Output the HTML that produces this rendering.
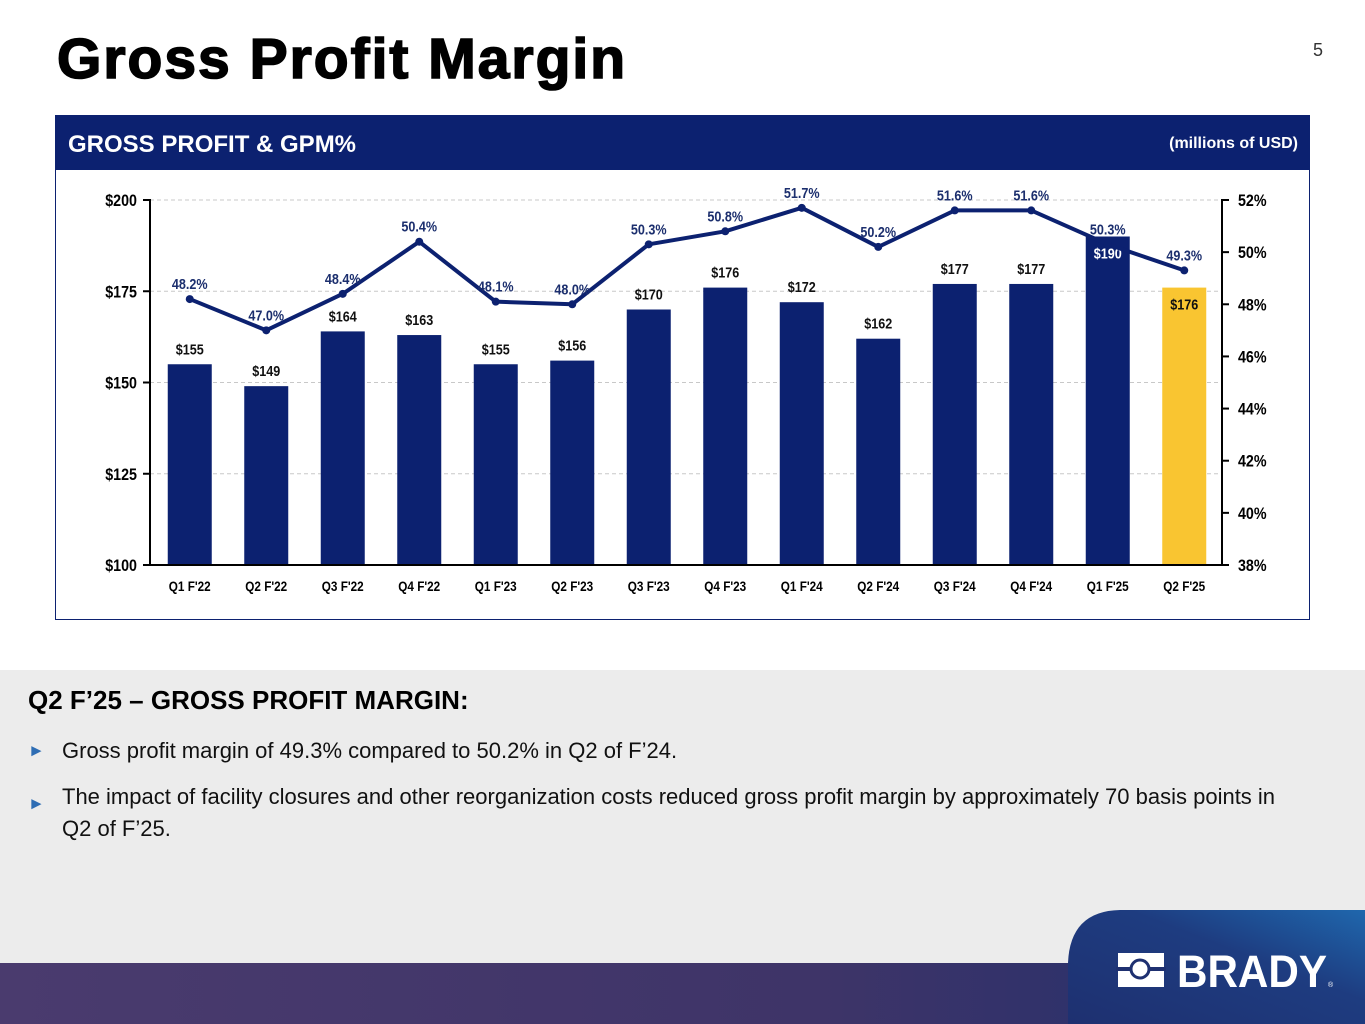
<!DOCTYPE html>
<html><head><meta charset="utf-8"><style>
body{margin:0;width:1365px;height:1024px;position:relative;overflow:hidden;background:#fff;font-family:"Liberation Sans",sans-serif}
.abs{position:absolute}
</style></head><body>
<div class="abs" style="left:57px;top:26px;font-size:57px;font-weight:bold;color:#000;letter-spacing:2px;-webkit-text-stroke:1.6px #000">Gross Profit Margin</div>
<div class="abs" style="left:1313px;top:40px;font-size:18px;color:#333">5</div>
<div class="abs" style="left:55px;top:115px;width:1253px;height:503px;border:1px solid #0c2170;background:#fff"></div>
<div class="abs" style="left:55px;top:115px;width:1255px;height:55px;background:#0c2170">
 <div class="abs" style="left:13px;top:16px;font-size:24px;font-weight:bold;color:#fff">GROSS PROFIT &amp; GPM%</div>
 <div class="abs" style="right:12px;top:20px;font-size:16px;font-weight:bold;color:#fff">(millions of USD)</div>
</div>
<svg class="abs" style="left:0;top:0" width="1365" height="660">
<g id="g"></g>
</svg>
<div class="abs" style="left:0;top:670px;width:1365px;height:300px;background:#ececec">
 <div class="abs" style="left:28px;top:15px;font-size:26px;font-weight:bold;color:#000">Q2 F’25 – GROSS PROFIT MARGIN:</div>
 <div class="abs" style="left:28px;top:68px;font-size:22px;color:#111;width:1300px"><span style="color:#2e6db4;font-size:17px;position:absolute;left:0;top:3px">►</span><span style="position:absolute;left:34px;white-space:nowrap">Gross profit margin of 49.3% compared to 50.2% in Q2 of F’24.</span></div>
 <div class="abs" style="left:28px;top:115px;font-size:22px;color:#111;width:1300px;line-height:32px"><span style="color:#2e6db4;font-size:17px;position:absolute;left:0;top:3px">►</span><div style="position:absolute;left:34px;top:-4px;width:1230px">The impact of facility closures and other reorganization costs reduced gross profit margin by approximately 70 basis points in Q2 of F’25.</div></div>
</div>
<div class="abs" style="left:0;top:963px;width:1365px;height:61px;background:linear-gradient(90deg,#4a3b6e,#3e3468 60%,#1f2f6e)"></div>
<svg class="abs" style="left:1060px;top:905px" width="305" height="119">
<defs><linearGradient id="lg" x1="0" y1="1" x2="1" y2="0"><stop offset="0" stop-color="#1e3070"/><stop offset="0.6" stop-color="#1e3c80"/><stop offset="1" stop-color="#1f67ad"/></linearGradient></defs>
<path d="M8 119 L8 58 Q10 6 60 5 L305 5 L305 119 Z" fill="url(#lg)"/>
<rect x="58" y="48" width="46" height="34" fill="#fff"/>
<rect x="56" y="62" width="50" height="4" fill="#1e3070"/>
<circle cx="80" cy="64" r="9" fill="#fff" stroke="#1e3070" stroke-width="3"/>
<text x="117" y="82" font-family="Liberation Sans" font-weight="bold" font-size="45" fill="#fff" textLength="150" lengthAdjust="spacingAndGlyphs">BRADY</text>
<text x="268" y="82" font-size="7" fill="#fff" font-family="Liberation Sans">®</text>
</svg>
<script>
const categories=["Q1 F'22","Q2 F'22","Q3 F'22","Q4 F'22","Q1 F'23","Q2 F'23","Q3 F'23","Q4 F'23","Q1 F'24","Q2 F'24","Q3 F'24","Q4 F'24","Q1 F'25","Q2 F'25"];
const grossProfit=[155,149,164,163,155,156,170,176,172,162,177,177,190,176];
const gpm=[48.2,47.0,48.4,50.4,48.1,48.0,50.3,50.8,51.7,50.2,51.6,51.6,50.3,49.3];
const leftTicks=[100,125,150,175,200];
const rightTicks=[38,40,42,44,46,48,50,52];
const NS="http://www.w3.org/2000/svg";
const g=document.getElementById('g');
const X0=151.5,BW=76.5,Y0=565,Y1=200;
const xC=i=>X0+BW*(i+0.5);
const yL=v=>Y0-(v-100)/100*(Y0-Y1);
const yR=v=>Y0-(v-38)/14*(Y0-Y1);
const F='"Liberation Sans",sans-serif';
function el(t,a){const e=document.createElementNS(NS,t);for(const k in a)e.setAttribute(k,a[k]);g.appendChild(e);return e;}
function tx(x,y,s,a){const e=el('text',Object.assign({x:0,y:0,transform:'translate('+x+','+y+') scale(0.84,1)','font-family':F,'font-weight':'bold','font-size':15,'text-anchor':'middle'},a));e.textContent=s;return e;}
leftTicks.forEach(v=>{
 if(v>100){const l=el('line',{x1:150,x2:1222,y1:yL(v),y2:yL(v),stroke:'#c8c8c8','stroke-dasharray':'4,3'});
 
 }
 el('line',{x1:143,x2:150,y1:yL(v),y2:yL(v),stroke:'#000','stroke-width':2});
 const t=tx(137,yL(v)+6,'$'+v,{'text-anchor':'end','font-size':17,fill:'#000'});
 
 
});
rightTicks.forEach(v=>{
 el('line',{x1:1222,x2:1229,y1:yR(v),y2:yR(v),stroke:'#000','stroke-width':2});
 const t=tx(1238,yR(v)+6,v+'%',{'text-anchor':'start','font-size':17,fill:'#000'});
 
 
});
grossProfit.forEach((v,i)=>{
 const last=i===grossProfit.length-1;
 const r=el('rect',{x:xC(i)-22,y:yL(v),width:44,height:Y0-yL(v),fill:last?'#f9c531':'#0c2170'});
 
 
 const inside=i===12||last;
 const t=tx(xC(i),inside?yL(v)+22:yL(v)-10,'$'+v,{fill:inside&&!last?'#fff':'#111'});
 
 
 const c=tx(xC(i),591,categories[i],{'font-size':14,fill:'#000'});
 
 
});
el('line',{x1:150,x2:150,y1:199,y2:566,stroke:'#000','stroke-width':2});
el('line',{x1:1222,x2:1222,y1:199,y2:566,stroke:'#000','stroke-width':2});
el('line',{x1:149,x2:1223,y1:565,y2:565,stroke:'#000','stroke-width':2});
const line=el('polyline',{points:gpm.map((v,i)=>xC(i)+','+yR(v)).join(' '),fill:'none',stroke:'#0c2170','stroke-width':4,'stroke-linejoin':'round'});


gpm.forEach((v,i)=>{
 const c=el('circle',{cx:xC(i),cy:yR(v),r:4,fill:'#0c2170'});
 
 
 const t=tx(xC(i),yR(v)-10,v.toFixed(1)+'%',{fill:'#1c2f6e'});
 
 
});
</script>
</body></html>
